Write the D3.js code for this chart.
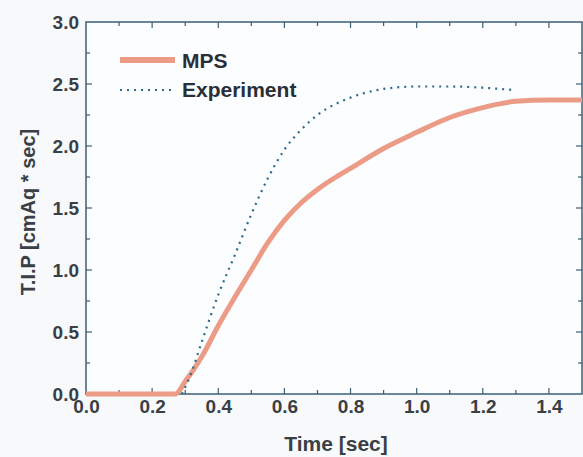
<!DOCTYPE html>
<html>
<head>
<meta charset="utf-8">
<script src="https://cdn.jsdelivr.net/npm/d3@7"></script>
<style>
  body { margin: 0; background: #f7f9fb; }
  svg { display: block; }
  .tick text { font-family: "Liberation Sans", Arial, sans-serif; font-weight: bold; fill: #3a3f45; }
</style>
</head>
<body>
<div id="chart"></div>
<script>
// data
let mpsTime = [0, 0.27, 0.30, 0.35, 0.40, 0.45, 0.50, 0.55, 0.60, 0.65, 0.70, 0.75, 0.80, 0.90, 1.00, 1.10, 1.20, 1.30, 1.40, 1.50];
let mpsTip  = [0, 0, 0.10, 0.30, 0.55, 0.78, 1.00, 1.22, 1.40, 1.54, 1.65, 1.74, 1.82, 1.98, 2.11, 2.23, 2.31, 2.36, 2.37, 2.37];
let expTime = [0.29, 0.32, 0.35, 0.40, 0.45, 0.50, 0.55, 0.60, 0.65, 0.70, 0.80, 0.90, 1.00, 1.10, 1.20, 1.30];
let expTip  = [0, 0.18, 0.42, 0.80, 1.12, 1.45, 1.74, 1.97, 2.13, 2.25, 2.39, 2.46, 2.48, 2.48, 2.47, 2.45];
let xTicks = [0, 0.2, 0.4, 0.6, 0.8, 1.0, 1.2, 1.4];
let yTicks = [0, 0.5, 1.0, 1.5, 2.0, 2.5, 3.0];

let width = 583, height = 457;
let margin = {left: 86, top: 22, right: 1, bottom: 63};

let svg = d3.select("#chart").append("svg")
    .attr("width", width)
    .attr("height", height);

let x = d3.scaleLinear().domain([0, 1.5]).range([margin.left, width - margin.right]);
let y = d3.scaleLinear().domain([0, 3]).range([height - margin.bottom, margin.top]);

let axisColor = "#3d5f73";
let font = "Liberation Sans, Arial, sans-serif";

svg.append("rect")
    .attr("x", x(0)).attr("y", y(3))
    .attr("width", x(1.5) - x(0)).attr("height", y(0) - y(3))
    .attr("fill", "#fcfdfe");

// minor ticks
let xMinor = d3.range(0.1, 1.5, 0.2);
let yMinor = d3.range(0.25, 3, 0.5);

function drawTicks(vals, len) {
  svg.selectAll(null).data(vals).enter().append("line")
      .attr("x1", d => x(d)).attr("x2", d => x(d))
      .attr("y1", y(0)).attr("y2", y(0) - len)
      .attr("stroke", axisColor).attr("stroke-width", 1.2);
  svg.selectAll(null).data(vals).enter().append("line")
      .attr("x1", d => x(d)).attr("x2", d => x(d))
      .attr("y1", y(3)).attr("y2", y(3) + len)
      .attr("stroke", axisColor).attr("stroke-width", 1.2);
}
function drawYTicks(vals, len) {
  svg.selectAll(null).data(vals).enter().append("line")
      .attr("y1", d => y(d)).attr("y2", d => y(d))
      .attr("x1", x(0)).attr("x2", x(0) + len)
      .attr("stroke", axisColor).attr("stroke-width", 1.2);
  svg.selectAll(null).data(vals).enter().append("line")
      .attr("y1", d => y(d)).attr("y2", d => y(d))
      .attr("x1", x(1.5)).attr("x2", x(1.5) - len)
      .attr("stroke", axisColor).attr("stroke-width", 1.2);
}
drawTicks(xTicks.slice(1), 6);
drawTicks(xMinor, 4);
drawYTicks(yTicks.slice(1, -1), 6);
drawYTicks(yMinor, 4);

// box
svg.append("rect")
    .attr("x", x(0)).attr("y", y(3))
    .attr("width", x(1.5) - x(0)).attr("height", y(0) - y(3))
    .attr("fill", "none")
    .attr("stroke", axisColor)
    .attr("stroke-width", 1.5);

// tick labels
let xAxis = svg.append("g")
    .attr("transform", "translate(0," + y(0) + ")")
    .call(d3.axisBottom(x).tickValues(xTicks).tickFormat(d3.format(".1f")).tickSize(0).tickPadding(6));
xAxis.select(".domain").remove();
xAxis.selectAll("text").attr("font-size", 19);

let yAxis = svg.append("g")
    .attr("transform", "translate(" + x(0) + ",0)")
    .call(d3.axisLeft(y).tickValues(yTicks).tickFormat(d3.format(".1f")).tickSize(0).tickPadding(7));
yAxis.select(".domain").remove();
yAxis.selectAll("text").attr("font-size", 19);

// axis titles
svg.append("text")
    .attr("x", 336)
    .attr("y", 451)
    .attr("text-anchor", "middle")
    .attr("font-family", font)
    .attr("font-weight", "bold")
    .attr("font-size", 21)
    .attr("fill", "#3a3f45")
    .text("Time [sec]");

svg.append("text")
    .attr("transform", "translate(35,212) rotate(-90)")
    .attr("text-anchor", "middle")
    .attr("font-family", font)
    .attr("font-weight", "bold")
    .attr("font-size", 20)
    .attr("fill", "#3a3f45")
    .text("T.I.P [cmAq * sec]");

// lines
let mps = mpsTime.map((t, i) => [t, mpsTip[i]]);
let exp = expTime.map((t, i) => [t, expTip[i]]);

let line = d3.line()
    .x(d => x(d[0]))
    .y(d => y(d[1]))
    .curve(d3.curveMonotoneX);

svg.append("path")
    .datum(mps)
    .attr("d", line)
    .attr("fill", "none")
    .attr("stroke", "#ec9c86")
    .attr("stroke-width", 5)
    .attr("stroke-linejoin", "round");

svg.append("path")
    .datum(exp)
    .attr("d", line)
    .attr("fill", "none")
    .attr("stroke", "#2f6a8a")
    .attr("stroke-width", 2.2)
    .attr("stroke-dasharray", "2,5");

// legend
svg.append("line")
    .attr("x1", 120).attr("x2", 175).attr("y1", 60).attr("y2", 60)
    .attr("stroke", "#ec9c86").attr("stroke-width", 6);
svg.append("line")
    .attr("x1", 120).attr("x2", 175).attr("y1", 90).attr("y2", 90)
    .attr("stroke", "#2f6a8a").attr("stroke-width", 2.2).attr("stroke-dasharray", "2,5");

let legendText = ["MPS", "Experiment"];
svg.selectAll(null).data(legendText).enter().append("text")
    .attr("x", 182)
    .attr("y", (d, i) => 68 + i * 29)
    .attr("font-family", font)
    .attr("font-size", 21)
    .attr("font-weight", "bold")
    .attr("fill", "#2a2f35")
    .text(d => d);
</script>
</body>
</html>
